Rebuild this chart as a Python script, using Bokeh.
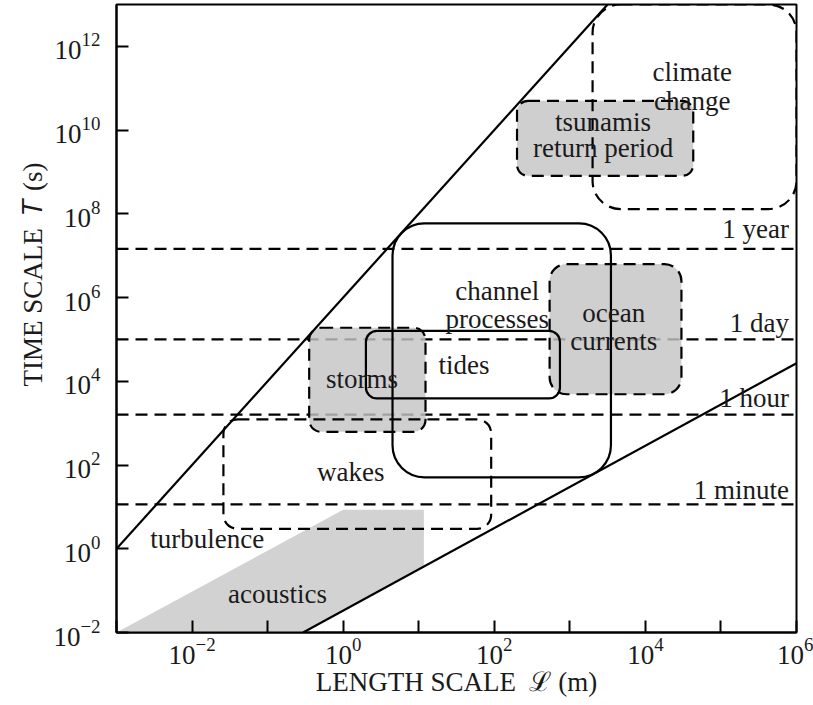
import numpy as np
from bokeh.plotting import figure
from bokeh.models import Range1d, FixedTicker, Span, Title, ColumnDataSource
from bokeh.core.properties import value
from bokeh.embed import file_html
from bokeh.resources import INLINE

# ---------------- data ----------------
# Rounded regions in length (m) / time (s) space
box_names = ["climate change", "tsunamis return period", "channel processes",
             "ocean currents", "tides", "storms", "wakes"]
box_L_min = [2.0e3, 2.0e2, 4.5, 5.4e2, 2.0, 0.355, 0.026]
box_L_max = [1.0e6, 4.3e4, 3.5e3, 3.0e4, 7.4e2, 12.3, 91.0]
box_T_min = [1.3e8, 8.1e8, 51.0, 4.9e3, 3.9e3, 6.2e2, 3.0]
box_T_max = [1.0e13, 5.0e10, 5.9e7, 6.3e6, 1.6e5, 1.9e5, 1.23e3]
box_filled = [False, True, False, True, False, True, False]
box_dashed = [True, True, False, True, False, True, True]

# Reference time scales (drawn positions)
time_names = ["1 year", "1 day", "1 hour", "1 minute"]
time_T = [1.45e7, 1.0e5, 1.6e3, 11.5]

# Limiting lines
upper_L = [1.0e-3, 3.16e3]
upper_T = [1.0, 1.0e13]
lower_L = [0.295, 1.0e6]
lower_T = [1.0e-2, 2.7e4]

# Acoustics region
acoustics_L = [1.0e-3, 1.0, 11.7, 11.7, 0.295]
acoustics_T = [1.0e-2, 8.6, 8.6, 0.375, 1.0e-2]

# Tick values
x_major = [1e-2, 1e0, 1e2, 1e4, 1e6]
x_minor = [1e-3, 1e-1, 1e1, 1e3, 1e5]
y_major = [1e-2, 1e0, 1e2, 1e4, 1e6, 1e8, 1e10, 1e12]

x_title = "LENGTH SCALE\u00a0\u00a0\u2112\u00a0(m)"
y_title = "TIME SCALE\u00a0\u00a0\U0001D447\u00a0(s)"

# ---------------- annotation layout (log10 positions) ----------------
region_text = ["climate", "change", "tsunamis", "return period", "channel", "processes",
               "ocean", "currents", "tides", "storms", "wakes", "turbulence", "acoustics"]
region_text_lx = [4.62, 4.62, 3.44, 3.44, 2.04, 2.04, 3.58, 3.58, 1.60, 0.25, 0.10, -1.80, -0.87]
region_text_ly = [11.38, 10.70, 10.20, 9.58, 6.16, 5.49, 5.64, 4.96, 4.39, 4.05, 1.84, 0.23, -1.09]
time_text_lx = 5.90
time_text_ly = [7.63, 5.40, 3.61, 1.41]
box_radius = [28, 11, 32, 17, 11, 12, 14]

FONT = "Liberation Serif"
DASH = "12 7"
LW = 2.2
GRAY_FILL = "#c4c4c4"
TXT = "#1a1a1a"

p = figure(width=813, height=705, x_axis_type="log", y_axis_type="log",
           x_range=Range1d(1e-3, 1e6), y_range=Range1d(1e-2, 1e13),
           output_backend="svg", toolbar_location=None,
           min_border_left=116, min_border_right=17, min_border_top=4, min_border_bottom=73)
p.xgrid.visible = False
p.ygrid.visible = False
p.background_fill_color = "white"
p.border_fill_color = "white"
p.outline_line_color = "black"
p.outline_line_width = 2
p.outline_line_alpha = 1

# horizontal time-scale lines
for t in time_T:
    p.add_layout(Span(location=t, dimension="width", line_color="black",
                      line_width=LW, line_dash=DASH, level="underlay"))

# acoustics
p.patch(acoustics_L, acoustics_T, fill_color="#d2d2d2", line_color=None)

# gray fills
for i in range(len(box_names)):
    if box_filled[i]:
        p.quad(left=[box_L_min[i]], right=[box_L_max[i]], bottom=[box_T_min[i]], top=[box_T_max[i]],
               fill_color=GRAY_FILL, fill_alpha=0.82, line_color=None, border_radius=box_radius[i])

# outlines
for i in range(len(box_names)):
    p.quad(left=[box_L_min[i]], right=[box_L_max[i]], bottom=[box_T_min[i]], top=[box_T_max[i]],
           fill_color=None, line_color="black", line_width=LW,
           line_dash=DASH if box_dashed[i] else "solid", border_radius=box_radius[i])

# limiting lines
p.line(upper_L, upper_T, line_color="black", line_width=LW)
p.line(lower_L, lower_T, line_color="black", line_width=LW)

# texts
src = ColumnDataSource(dict(x=[10 ** v for v in region_text_lx],
                            y=[10 ** v for v in region_text_ly], t=region_text))
p.text(x="x", y="y", text="t", source=src, text_font=value(FONT), text_font_size="27px",
       text_align="center", text_baseline="middle", text_color=TXT)
src2 = ColumnDataSource(dict(x=[10 ** time_text_lx] * len(time_names),
                             y=[10 ** v for v in time_text_ly], t=time_names))
p.text(x="x", y="y", text="t", source=src2, text_font=value(FONT), text_font_size="27px",
       text_align="right", text_baseline="middle", text_color=TXT)

# axes
p.xaxis.ticker = FixedTicker(ticks=x_major, minor_ticks=x_minor)
p.yaxis.ticker = FixedTicker(ticks=y_major, minor_ticks=[])
for ax in (p.xaxis, p.yaxis):
    ax.axis_line_width = 2
    ax.axis_line_color = "black"
    ax.major_tick_in = 12
    ax.major_tick_out = 0
    ax.major_tick_line_width = 2
    ax.minor_tick_line_width = 2
    ax.major_label_text_font = FONT
    ax.major_label_text_font_size = "27px"
    ax.major_label_text_color = TXT
p.xaxis.major_label_standoff = 5
p.yaxis.major_label_standoff = 16
p.xaxis.minor_tick_in = 12
p.xaxis.minor_tick_out = 0
p.yaxis.minor_tick_in = 0
p.yaxis.minor_tick_out = 0

p.xaxis.axis_label = x_title
p.xaxis.axis_label_text_font = FONT
p.xaxis.axis_label_text_font_size = "27px"
p.xaxis.axis_label_text_font_style = "normal"
p.xaxis.axis_label_text_color = TXT
p.xaxis.axis_label_standoff = 0

p.add_layout(Title(text=y_title, align="left", offset=246, standoff=6,
                   text_font=FONT, text_font_size="27px", text_font_style="normal",
                   text_color=TXT), "left")

open("out.html", "w").write(file_html(p, INLINE))
